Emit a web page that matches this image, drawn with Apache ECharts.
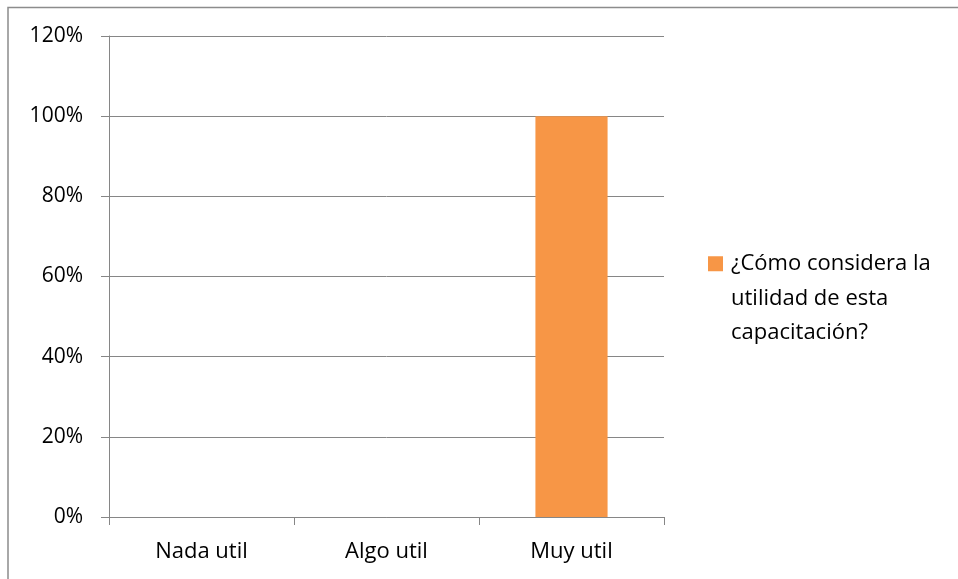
<!DOCTYPE html>
<html>
<head>
<meta charset="utf-8">
<script src="https://cdn.jsdelivr.net/npm/echarts@6/dist/echarts.min.js"></script>
<style>
  html, body { margin: 0; padding: 0; background: #fff; }
  #chart { width: 958px; height: 579px; }
</style>
</head>
<body>
<div id="chart"></div>
<script>
// Survey answers and the share of respondents for each
const categories = ['Nada util', 'Algo util', 'Muy util'];
const seriesName = '¿Cómo considera la utilidad de esta capacitación?';
const legendLines = ['¿Cómo considera la', 'utilidad de esta', 'capacitación?'];
const shares = [0, 0, 1];
const yTicks = [0, 0.2, 0.4, 0.6, 0.8, 1.0, 1.2];

const FONT = '"Open Sans", "Noto Sans", sans-serif';
const GRID_GREY = '#868686';
const LINE_H = 34.5;

const chart = echarts.init(document.getElementById('chart'), null, { renderer: 'canvas' });

// Two empty spacer lines above the wrapped legend text keep the swatch
// level with the first line instead of the middle of the block.
const legendText = '{s| }\n{s| }\n' + legendLines.map(l => '{t|' + l + '}').join('\n');

chart.setOption({
  backgroundColor: '#ffffff',
  animation: false,
  textStyle: { fontFamily: FONT },
  grid: { left: 109, right: 294, top: 36, bottom: 62, containLabel: false },
  graphic: [
    {
      type: 'polyline',
      shape: { points: [[8, 579], [8, 7.5], [958, 7.5]] },
      style: { stroke: '#8c8c8c', lineWidth: 1.5, fill: null },
      silent: true
    }
  ],
  legend: {
    orient: 'vertical',
    left: 708,
    top: 270 - (LINE_H * 5) / 2,
    padding: 0,
    itemWidth: 15,
    itemHeight: 15,
    itemGap: 0,
    icon: 'rect',
    formatter: () => legendText,
    textStyle: {
      fontFamily: FONT,
      fontSize: 22,
      color: '#000',
      rich: {
        s: { fontSize: 22, lineHeight: LINE_H, fontFamily: FONT },
        t: { fontSize: 22, lineHeight: LINE_H, fontFamily: FONT, color: '#000', padding: [0, 0, 0, 3] }
      }
    },
    data: [seriesName]
  },
  xAxis: {
    type: 'category',
    data: categories,
    boundaryGap: true,
    axisLine: { lineStyle: { color: GRID_GREY, width: 1 } },
    axisTick: { show: true, length: 8, inside: false, lineStyle: { color: GRID_GREY } },
    axisLabel: { margin: 24, fontSize: 22, color: '#000', fontFamily: FONT },
    splitLine: { show: false }
  },
  yAxis: {
    type: 'value',
    min: yTicks[0],
    max: yTicks[yTicks.length - 1],
    interval: 0.2,
    axisLine: { show: true, lineStyle: { color: GRID_GREY, width: 1 } },
    axisTick: { show: true, length: 8, lineStyle: { color: GRID_GREY } },
    axisLabel: {
      margin: 26,
      fontSize: 21,
      color: '#000',
      fontFamily: FONT,
      formatter: v => Math.round(v * 100) + '%'
    },
    splitLine: { show: true, lineStyle: { color: GRID_GREY, width: 1 } }
  },
  series: [
    {
      name: seriesName,
      type: 'bar',
      data: shares,
      barWidth: '39%',
      itemStyle: { color: '#F79646' }
    }
  ]
});
</script>
</body>
</html>
